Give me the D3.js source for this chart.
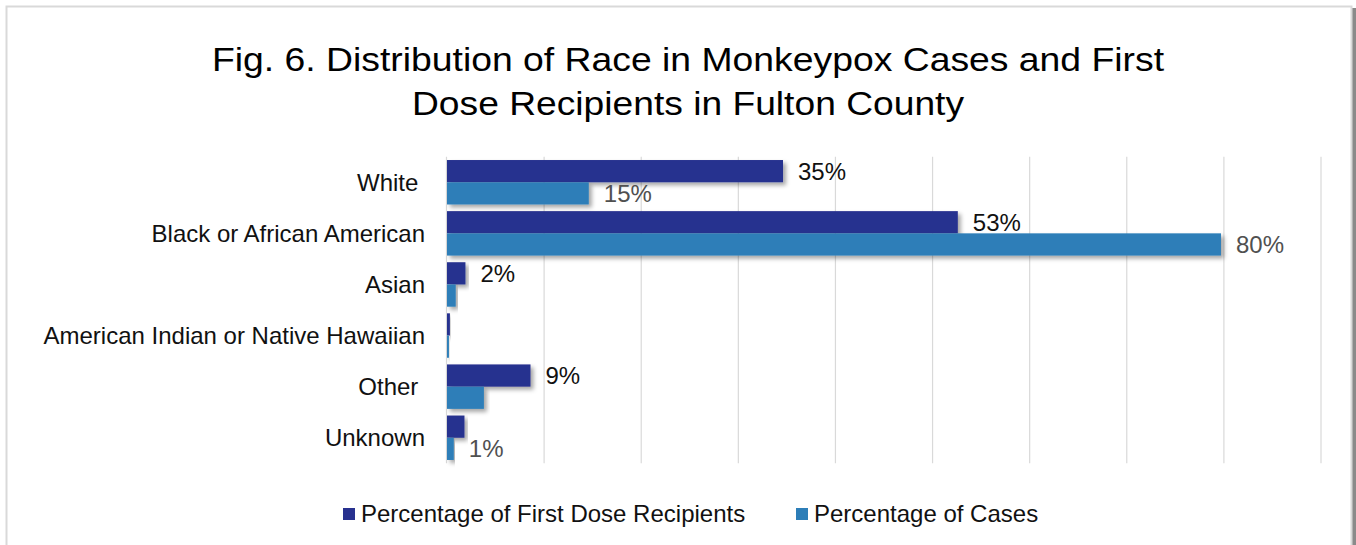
<!DOCTYPE html>
<html>
<head>
<meta charset="utf-8">
<script src="https://cdn.jsdelivr.net/npm/d3@7"></script>
<style>
  html, body { margin: 0; padding: 0; background: #fff; }
  svg { display: block; font-family: "Liberation Sans", Arial, sans-serif; }
</style>
</head>
<body>
<svg id="chart" width="1356" height="545"></svg>
<script>
// Data (percent)
const categories = ["White ", "Black or African American", "Asian",
  "American Indian or Native Hawaiian", "Other ", "Unknown"];
const firstDose = [34.6, 52.6, 1.9, 0.3, 8.6, 1.8];
const cases = [14.6, 79.7, 0.9, 0.2, 3.8, 0.7];
// only some bars carry a data label in the original
const firstDoseLabels = ["35%", "53%", "2%", null, "9%", null];
const casesLabels = ["15%", "80%", null, null, null, "1%"];
const seriesNames = ["Percentage of First Dose Recipients", "Percentage of Cases"];
const xTicks = [0, 10, 20, 30, 40, 50, 60, 70, 80, 90];

const colors = ["#28318f", "#2d7eb8"];
const labelColors = ["#111", "#505050"];

const svg = d3.select("#chart");
const W = 1356, H = 545;

// drop shadow like the office chart
const defs = svg.append("defs");
const f = defs.append("filter").attr("id", "shadow")
  .attr("x", "-5%").attr("y", "-20%").attr("width", "120%").attr("height", "160%");
f.append("feDropShadow").attr("dx", 3).attr("dy", 3)
  .attr("stdDeviation", 2).attr("flood-color", "#000").attr("flood-opacity", 0.35);

// frame
svg.append("rect").attr("x", 1352).attr("y", 8).attr("width", 4).attr("height", H)
  .attr("fill", "#8a8a8a");
svg.append("rect").attr("x", 6.5).attr("y", 6.5).attr("width", 1345).attr("height", H + 10)
  .attr("fill", "#fff").attr("stroke", "#d9d9d9").attr("stroke-width", 2);

// title (stretched a little wide, as in the source image)
const title = svg.append("text").attr("text-anchor", "middle")
  .attr("font-size", 33).attr("fill", "#000");
title.append("tspan").attr("x", 688).attr("y", 71)
  .attr("textLength", 952).attr("lengthAdjust", "spacingAndGlyphs")
  .text("Fig. 6. Distribution of Race in Monkeypox Cases and First");
title.append("tspan").attr("x", 688).attr("y", 115)
  .attr("textLength", 552).attr("lengthAdjust", "spacingAndGlyphs")
  .text("Dose Recipients in Fulton County");

// scales
const x = d3.scaleLinear().domain([0, 90]).range([447, 1321]);
const y = d3.scaleBand().domain(categories).range([156.7, 463.3])
  .paddingInner(0.13).paddingOuter(0.065);
const sub = d3.scaleBand().domain([0, 1]).range([0, y.bandwidth()]);

// gridlines
svg.append("g").selectAll("line").data(xTicks.slice(1)).join("line")
  .attr("x1", d => x(d)).attr("x2", d => x(d))
  .attr("y1", 156.7).attr("y2", 463.3)
  .attr("stroke", "#d9d9d9").attr("stroke-width", 1.2);
svg.append("line").attr("x1", x(0) - 0.5).attr("x2", x(0) - 0.5)
  .attr("y1", 156.7).attr("y2", 463.3)
  .attr("stroke", "#d9d9d9").attr("stroke-width", 1.2);

// category labels
svg.append("g").selectAll("text").data(categories).join("text")
  .attr("x", 425).attr("y", d => y(d) + y.bandwidth() / 2)
  .attr("dy", "0.35em").attr("text-anchor", "end")
  .attr("font-size", 24).attr("fill", "#111")
  .style("white-space", "pre")
  .text(d => d);

// bars
const series = [firstDose, cases];
const seriesLabels = [firstDoseLabels, casesLabels];
series.forEach((vals, s) => {
  const rows = vals.map((v, i) => ({cat: categories[i], value: v, label: seriesLabels[s][i]}));
  const g = svg.append("g");
  g.selectAll("rect").data(rows).join("rect")
    .attr("x", x(0))
    .attr("y", d => y(d.cat) + sub(s))
    .attr("width", d => x(d.value) - x(0))
    .attr("height", sub.bandwidth())
    .attr("fill", colors[s])
    .attr("filter", "url(#shadow)");
  g.selectAll("text").data(rows.filter(d => d.label)).join("text")
    .attr("x", d => x(d.value) + 15)
    .attr("y", d => y(d.cat) + sub(s) + sub.bandwidth() / 2)
    .attr("dy", "0.35em")
    .attr("font-size", 24).attr("fill", labelColors[s])
    .text(d => d.label);
});

// legend
const legendX = [343, 796];
const leg = svg.append("g").selectAll("g").data(seriesNames).join("g")
  .attr("transform", (d, i) => `translate(${legendX[i]},508)`);
leg.append("rect").attr("width", 12).attr("height", 12)
  .attr("fill", (d, i) => colors[i]);
leg.append("text").attr("x", 18).attr("y", 14)
  .attr("font-size", 24).attr("fill", "#111")
  .text(d => d);
</script>
</body>
</html>
